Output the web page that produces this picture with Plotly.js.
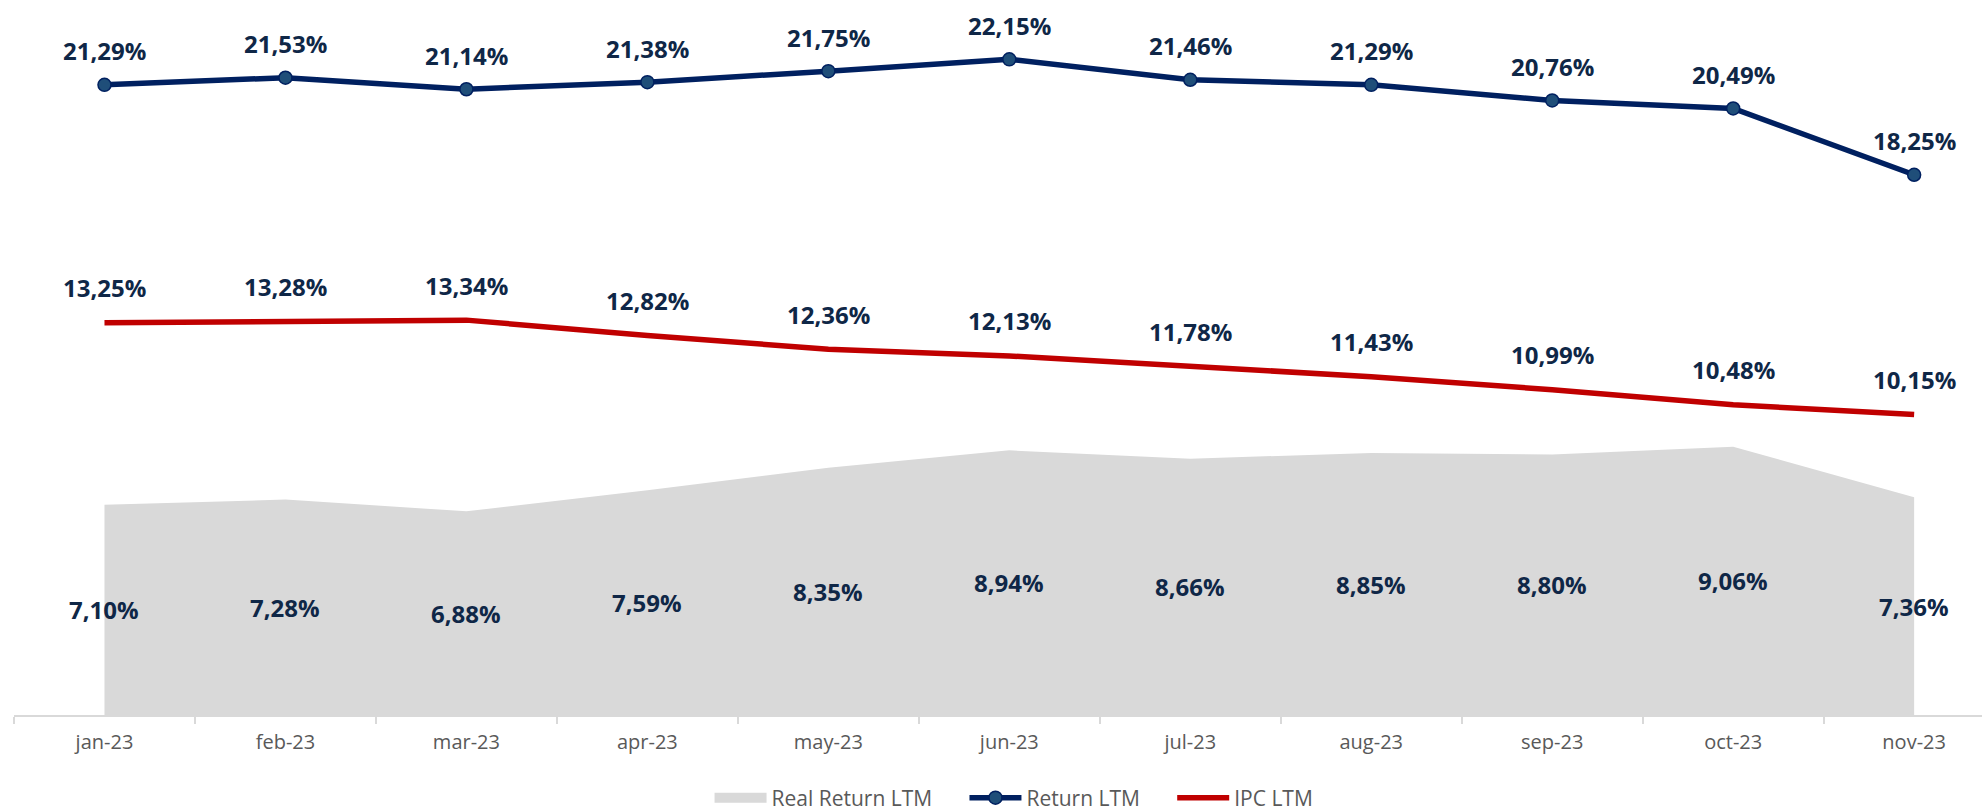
<!DOCTYPE html>
<html>
<head>
<meta charset="utf-8">
<script src="https://cdn.plot.ly/plotly-3.0.1.min.js"></script>
<style>html,body{margin:0;padding:0;background:#fff;}#chart{width:1982px;height:811px;}</style>
</head>
<body>
<div id="chart"></div>
<script>
const months = ["jan-23","feb-23","mar-23","apr-23","may-23","jun-23","jul-23","aug-23","sep-23","oct-23","nov-23"];
const returnLTM = [21.29, 21.53, 21.14, 21.38, 21.75, 22.15, 21.46, 21.29, 20.76, 20.49, 18.25];
const ipcLTM = [13.25, 13.28, 13.34, 12.82, 12.36, 12.13, 11.78, 11.43, 10.99, 10.48, 10.15];
const realReturnLTM = [7.10, 7.28, 6.88, 7.59, 8.35, 8.94, 8.66, 8.85, 8.80, 9.06, 7.36];
const seriesNames = ["Real Return LTM", "Return LTM", "IPC LTM"];

const labelColor = "#0f2747";
const labelFont = {family: "Open Sans", size: 24, color: labelColor, weight: 700};
const fmt = v => v.toFixed(2).replace(".", ",") + "%";
const pad = "\u00a0\u00a0\u00a0\u00a0\u00a0";

const traces = [
  {
    name: seriesNames[0], x: months, y: realReturnLTM, type: "scatter", mode: "lines",
    fill: "tozeroy", fillcolor: "#d9d9d9", line: {width: 0, color: "#d9d9d9"}, hoverinfo: "skip",
    showlegend: false, legendgroup: "real"
  },
  {
    // legend entry only (wide grey swatch like the reference)
    name: seriesNames[0] + pad, x: [months[0]], y: [null], type: "scatter", mode: "lines",
    line: {width: 15, color: "#d9d9d9"}, legendgroup: "real", hoverinfo: "skip"
  },
  {
    name: seriesNames[1] + pad, x: months, y: returnLTM, type: "scatter", mode: "lines+markers",
    line: {color: "#002060", width: 5.5},
    marker: {size: 13, color: "#1f4e79", line: {color: "#002060", width: 1.5}}
  },
  {
    name: seriesNames[2], x: months, y: ipcLTM, type: "scatter", mode: "lines",
    line: {color: "#c00000", width: 5.5}
  }
];

const annotations = [];
months.forEach((m, i) => {
  annotations.push({x: m, y: returnLTM[i], text: fmt(returnLTM[i]), showarrow: false, yshift: 34, font: labelFont});
  annotations.push({x: m, y: ipcLTM[i], text: fmt(ipcLTM[i]), showarrow: false, yshift: 35, font: labelFont});
  annotations.push({x: m, y: realReturnLTM[i] / 2, text: fmt(realReturnLTM[i]), showarrow: false, yshift: 0, font: labelFont});
});

const layout = {
  width: 1982, height: 811,
  margin: {l: 14, r: 0, t: 0, b: 96},
  paper_bgcolor: "#ffffff", plot_bgcolor: "#ffffff",
  separators: ",.",
  showlegend: true,
  xaxis: {
    type: "category", range: [-0.5, 10.375], automargin: false,
    showgrid: false, zeroline: false,
    showline: true, linecolor: "#d9d9d9", linewidth: 2,
    ticks: "outside", tickson: "boundaries", ticklen: 7, tickcolor: "#d9d9d9", tickwidth: 2,
    ticklabelstandoff: 8,
    tickfont: {family: "Open Sans", size: 20, color: "#595959"}
  },
  yaxis: {
    range: [0, 24.155], visible: false, showgrid: false, zeroline: false, fixedrange: true
  },
  legend: {
    orientation: "h", xref: "container", yref: "container",
    x: 0.358, xanchor: "left", y: 0.016, yanchor: "middle",
    itemwidth: 52, traceorder: "normal",
    font: {family: "Open Sans", size: 21, color: "#595959"},
    bgcolor: "rgba(0,0,0,0)"
  },
  annotations: annotations
};

Plotly.newPlot("chart", traces, layout, {displayModeBar: false, staticPlot: true});
</script>
</body>
</html>
